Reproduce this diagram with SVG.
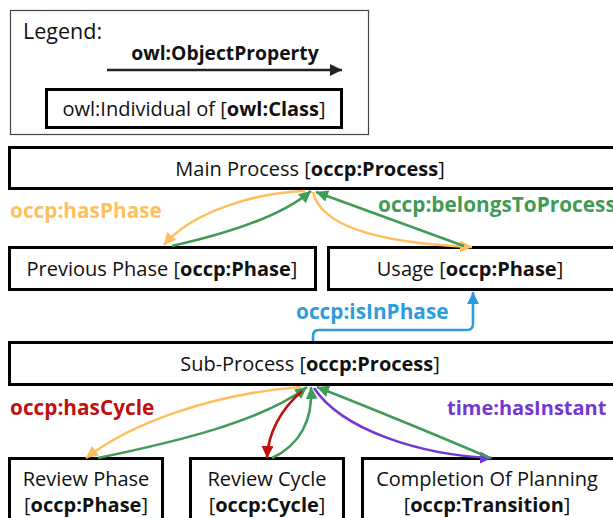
<svg xmlns="http://www.w3.org/2000/svg" width="613" height="518" viewBox="0 0 613 518">
  <style>
    text { font-family: "Open Sans", "Noto Sans", "Liberation Sans", sans-serif; font-size: 20px; fill: #111; }
    .c { text-anchor: middle; }
    .b { font-weight: bold; }
    .node { fill: #fff; stroke: #000; stroke-width: 3; }
    .edge { fill: none; stroke-width: 2.6; }
    .orange { stroke: #FFBF5E; }
    .green { stroke: #3F9B56; }
    .blue { stroke: #2F9BDF; }
    .red { stroke: #C00F0F; }
    .purple { stroke: #7436D6; }
    .lbl { font-weight: bold; font-size: 20.8px; }
  </style>
  <defs>
    <marker id="ah-black" viewBox="0 0 10 10" refX="10" refY="5" markerWidth="12" markerHeight="12" markerUnits="userSpaceOnUse" orient="auto"><path d="M0,0 L10,5 L0,10 z" fill="#222"/></marker>
    <marker id="ah-orange" viewBox="0 0 10 10" refX="10" refY="5" markerWidth="12" markerHeight="12" markerUnits="userSpaceOnUse" orient="auto"><path d="M0,0 L10,5 L0,10 z" fill="#FFBF5E"/></marker>
    <marker id="ah-green" viewBox="0 0 10 10" refX="10" refY="5" markerWidth="12" markerHeight="12" markerUnits="userSpaceOnUse" orient="auto"><path d="M0,0 L10,5 L0,10 z" fill="#3F9B56"/></marker>
    <marker id="ah-blue" viewBox="0 0 10 10" refX="10" refY="5" markerWidth="12" markerHeight="12" markerUnits="userSpaceOnUse" orient="auto"><path d="M0,0 L10,5 L0,10 z" fill="#2F9BDF"/></marker>
    <marker id="ah-red" viewBox="0 0 10 10" refX="10" refY="5" markerWidth="12" markerHeight="12" markerUnits="userSpaceOnUse" orient="auto"><path d="M0,0 L10,5 L0,10 z" fill="#C00F0F"/></marker>
    <marker id="ah-purple" viewBox="0 0 10 10" refX="10" refY="5" markerWidth="12" markerHeight="12" markerUnits="userSpaceOnUse" orient="auto"><path d="M0,0 L10,5 L0,10 z" fill="#7436D6"/></marker>
  </defs>
  <rect width="613" height="518" fill="#fff"/>

  <!-- legend -->
  <g id="legend">
    <rect x="10.5" y="10.5" width="358" height="124" fill="#fff" stroke="#444" stroke-width="1.2"/>
    <text x="23" y="39" style="font-size:21.5px">Legend:</text>
    <text x="225" y="60" class="c b" style="font-size:19.3px">owl:ObjectProperty</text>
    <line x1="107" y1="70" x2="342" y2="70" stroke="#222" stroke-width="2.6" marker-end="url(#ah-black)"/>
    <rect x="46.5" y="89.5" width="295" height="38" class="node"/>
    <text x="194" y="116" class="c">owl:Individual of [<tspan class="b">owl:Class</tspan>]</text>
  </g>

  <!-- nodes -->
  <g id="main-process">
    <rect x="9.5" y="147.5" width="610" height="41" class="node"/>
    <text x="310" y="176" class="c">Main Process [<tspan class="b">occp:Process</tspan>]</text>
  </g>
  <g id="previous-phase">
    <rect x="9.5" y="247.5" width="306" height="42" class="node"/>
    <text x="162" y="276" class="c">Previous Phase [<tspan class="b">occp:Phase</tspan>]</text>
  </g>
  <g id="usage">
    <rect x="328.5" y="247.5" width="290" height="42" class="node"/>
    <text x="470" y="276" class="c">Usage [<tspan class="b">occp:Phase</tspan>]</text>
  </g>
  <g id="sub-process">
    <rect x="9.5" y="342.5" width="610" height="42" class="node"/>
    <text x="310" y="371" class="c">Sub-Process [<tspan class="b">occp:Process</tspan>]</text>
  </g>
  <g id="review-phase">
    <rect x="9.5" y="458.5" width="153" height="70" class="node"/>
    <text x="86" y="486" class="c">Review Phase</text>
    <text x="86" y="512" class="c">[<tspan class="b">occp:Phase</tspan>]</text>
  </g>
  <g id="review-cycle">
    <rect x="190.5" y="458.5" width="153" height="70" class="node"/>
    <text x="267" y="486" class="c">Review Cycle</text>
    <text x="267" y="512" class="c">[<tspan class="b">occp:Cycle</tspan>]</text>
  </g>
  <g id="completion-of-planning">
    <rect x="362.5" y="458.5" width="260" height="70" class="node"/>
    <text x="487" y="486" class="c">Completion Of Planning</text>
    <text x="487" y="512" class="c">[<tspan class="b">occp:Transition</tspan>]</text>
  </g>

  <!-- connectors -->
  <g id="connectors">
    <path class="edge orange" d="M305,191 C250,193 190,214 164,245" marker-end="url(#ah-orange)"/>
    <path class="edge green" d="M172,246 C230,233 282,216 311,191" marker-end="url(#ah-green)"/>
    <path class="edge orange" d="M313,192 C322,232 400,244 472,247" marker-end="url(#ah-orange)"/>
    <path class="edge green" d="M464,246 L316,192" marker-end="url(#ah-green)"/>
    <path class="edge blue" d="M313,341 V336 Q313,330 319,330 H467 Q473,330 473,324 V292" marker-end="url(#ah-blue)"/>

    <path class="edge orange" d="M301,387 C210,394 130,424 86,458" marker-end="url(#ah-orange)"/>
    <path class="edge green" d="M98,458 C180,441 262,421 307,387" marker-end="url(#ah-green)"/>
    <path class="edge red" d="M302,391 C280,410 268,434 267,458" marker-end="url(#ah-red)"/>
    <path class="edge green" d="M272,458 C300,445 313,420 311,387" marker-end="url(#ah-green)"/>
    <path class="edge purple" d="M314,388 C342,430 420,455 492,458" marker-end="url(#ah-purple)"/>
    <path class="edge green" d="M490,458 C420,428 365,406 317,387" marker-end="url(#ah-green)"/>

    <text x="10" y="218" class="lbl" style="fill:#FFBF5E">occp:hasPhase</text>
    <text x="378" y="212" class="lbl" style="fill:#3F9B56">occp:belongsToProcess</text>
    <text x="296" y="319" class="lbl" style="fill:#2F9BDF">occp:isInPhase</text>
    <text x="10" y="415" class="lbl" style="fill:#C00F0F">occp:hasCycle</text>
    <text x="447" y="415" class="lbl" style="fill:#7436D6; font-size:20px">time:hasInstant</text>
  </g>
</svg>
